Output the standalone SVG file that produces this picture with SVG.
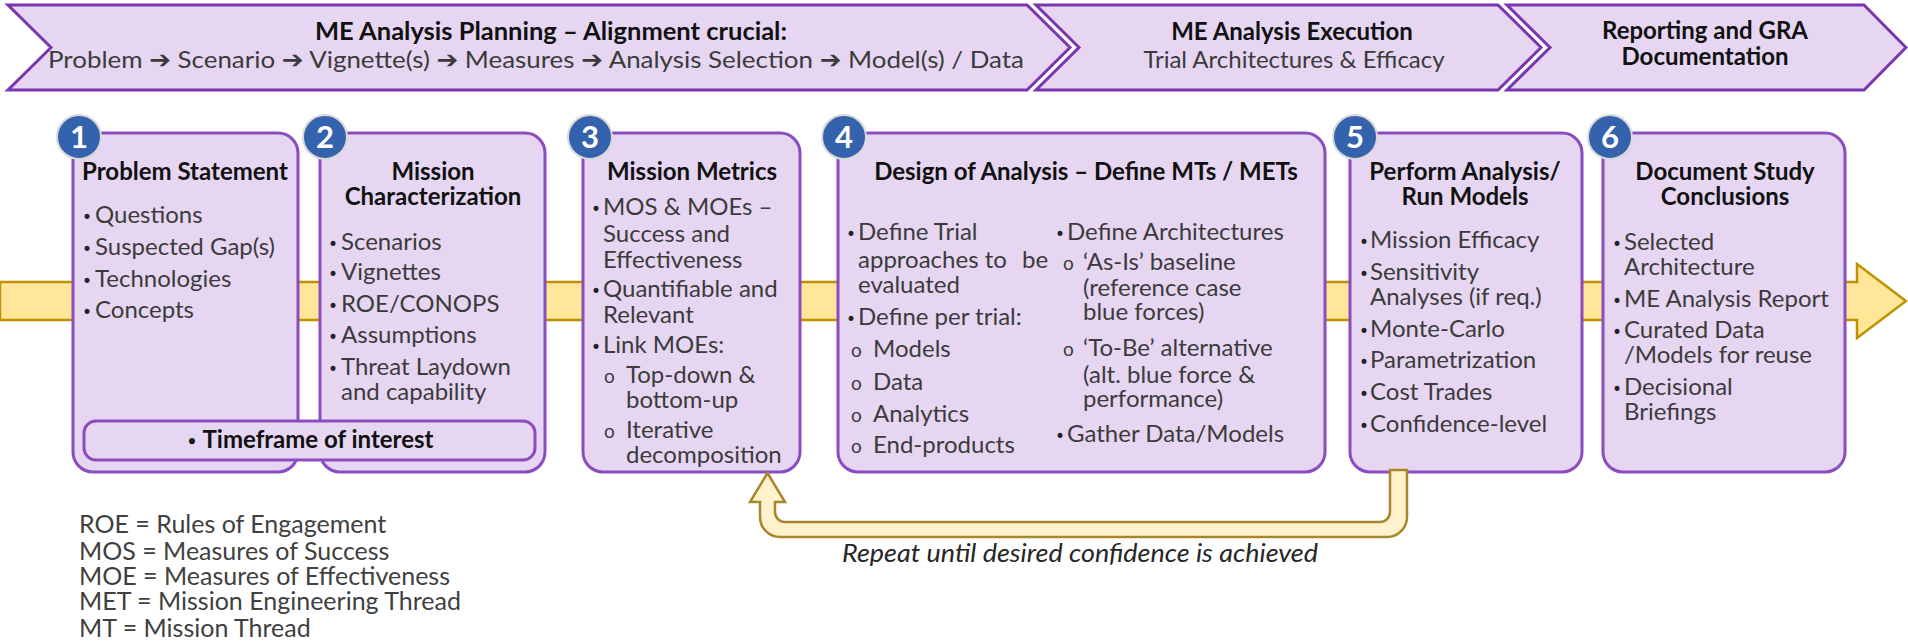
<svg xmlns="http://www.w3.org/2000/svg" width="1908" height="643" viewBox="0 0 1908 643">
<style>
.chev{fill:#E6D6F2;stroke:#7A36AE;stroke-width:3;stroke-linejoin:miter}
.box{fill:#E6D6F2;stroke:#8A4CBE;stroke-width:3}
.badge{fill:#3562AC;stroke:#D9D9D9;stroke-width:2}
.num{font-family:Lato,"DejaVu Sans",sans-serif;font-size:31px;font-weight:bold;fill:#fff;text-anchor:middle}
.t{font-family:Lato,"DejaVu Sans",sans-serif;font-size:24px;fill:#3B3B3B}
.h{font-family:Lato,"DejaVu Sans",sans-serif;font-size:24px;font-weight:bold;fill:#111;text-anchor:middle}
.sub{font-family:Lato,"DejaVu Sans",sans-serif;font-size:24px;fill:#3B3B3B;text-anchor:middle}
.b{font-family:"DejaVu Sans",sans-serif;font-size:17px;fill:#222}
.o{font-family:Lato,"DejaVu Sans",sans-serif;font-size:19px;fill:#3B3B3B}
.leg{font-family:Lato,"DejaVu Sans",sans-serif;font-size:25px;fill:#404040}
.rep{font-family:Lato,"DejaVu Sans",sans-serif;font-size:25px;font-style:italic;fill:#262626}
</style>

<g id="phase-planning">
<polygon class="chev" points="8,5 1027,5 1070,47.5 1027,90 8,90 51,47.5"/>
<text class="h" x="551" y="40" textLength="472" lengthAdjust="spacingAndGlyphs">ME Analysis Planning – Alignment crucial:</text>
<text class="t" x="48" y="68" textLength="976" lengthAdjust="spacingAndGlyphs">Problem ➔ Scenario ➔ Vignette(s) ➔ Measures ➔ Analysis Selection ➔ Model(s) / Data</text>
</g>
<g id="phase-execution">
<polygon class="chev" points="1036,5 1498,5 1541,47.5 1498,90 1036,90 1079,47.5"/>
<text class="h" x="1292" y="40">ME Analysis Execution</text>
<text class="sub" x="1294" y="68">Trial Architectures &amp; Efficacy</text>
</g>
<g id="phase-reporting">
<polygon class="chev" points="1507,5 1864,5 1906,47.5 1864,90 1507,90 1550,47.5"/>
<text class="h" x="1705" y="39">Reporting and GRA</text>
<text class="h" x="1705" y="65">Documentation</text>
</g>

<g id="flow-arrow">
<polygon points="0,282 1857,282 1857,264 1906,301 1857,338 1857,320 0,320" fill="#FFE699" stroke="#BF9000" stroke-width="2.5"/>
</g>

<g id="step1">
<rect class="box" x="73" y="133" width="225" height="339" rx="20"/>
<circle class="badge" cx="79" cy="137" r="22"/><text class="num" x="79" y="148">1</text>
<text class="h" x="185" y="180">Problem Statement</text>
<text class="b" x="82" y="223">•</text><text class="t" x="95" y="223">Questions</text>
<text class="b" x="82" y="255">•</text><text class="t" x="95" y="255">Suspected Gap(s)</text>
<text class="b" x="82" y="287">•</text><text class="t" x="95" y="287">Technologies</text>
<text class="b" x="82" y="318">•</text><text class="t" x="95" y="318">Concepts</text>
</g>

<g id="step2">
<rect class="box" x="320" y="133" width="225" height="339" rx="20"/>
<circle class="badge" cx="325" cy="137" r="22"/><text class="num" x="325" y="148">2</text>
<text class="h" x="433" y="180">Mission</text>
<text class="h" x="433" y="205">Characterization</text>
<text class="b" x="328" y="250">•</text><text class="t" x="341" y="250">Scenarios</text>
<text class="b" x="328" y="280">•</text><text class="t" x="341" y="280">Vignettes</text>
<text class="b" x="328" y="312">•</text><text class="t" x="341" y="312">ROE/CONOPS</text>
<text class="b" x="328" y="343">•</text><text class="t" x="341" y="343">Assumptions</text>
<text class="b" x="328" y="375">•</text><text class="t" x="341" y="375">Threat Laydown</text>
<text class="t" x="341" y="400">and capability</text>
</g>

<g id="timeframe">
<rect class="box" x="84" y="421" width="451" height="39" rx="12"/>
<text class="h" x="310" y="448"><tspan font-family="DejaVu Sans" font-size="17">•</tspan> Timeframe of interest</text>
</g>

<g id="step3">
<rect class="box" x="583" y="133" width="217" height="339" rx="20"/>
<circle class="badge" cx="590" cy="137" r="22"/><text class="num" x="590" y="148">3</text>
<text class="h" x="692" y="180">Mission Metrics</text>
<text class="b" x="591" y="215">•</text><text class="t" x="603" y="215">MOS &amp; MOEs –</text>
<text class="t" x="603" y="242">Success and</text>
<text class="t" x="603" y="268">Effectiveness</text>
<text class="b" x="591" y="297">•</text><text class="t" x="603" y="297">Quantifiable and</text>
<text class="t" x="603" y="323">Relevant</text>
<text class="b" x="591" y="353">•</text><text class="t" x="603" y="353">Link MOEs:</text>
<text class="o" x="604" y="383">o</text><text class="t" x="626" y="383">Top-down &amp;</text>
<text class="t" x="626" y="408">bottom-up</text>
<text class="o" x="604" y="438">o</text><text class="t" x="626" y="438">Iterative</text>
<text class="t" x="626" y="463">decomposition</text>
</g>

<g id="step4">
<rect class="box" x="838" y="133" width="487" height="339" rx="20"/>
<circle class="badge" cx="844" cy="137" r="22"/><text class="num" x="844" y="148">4</text>
<text class="h" x="1086" y="180">Design of Analysis – Define MTs / METs</text>
<text class="b" x="846" y="240">•</text><text class="t" x="858" y="240">Define Trial</text>
<text class="t" x="858" y="268">approaches to</text><text class="t" x="1022" y="268">be</text>
<text class="t" x="858" y="293">evaluated</text>
<text class="b" x="846" y="325">•</text><text class="t" x="858" y="325">Define per trial:</text>
<text class="o" x="851" y="357">o</text><text class="t" x="873" y="357">Models</text>
<text class="o" x="851" y="390">o</text><text class="t" x="873" y="390">Data</text>
<text class="o" x="851" y="422">o</text><text class="t" x="873" y="422">Analytics</text>
<text class="o" x="851" y="453">o</text><text class="t" x="873" y="453">End-products</text>
<text class="b" x="1055" y="240">•</text><text class="t" x="1067" y="240">Define Architectures</text>
<text class="o" x="1063" y="270">o</text><text class="t" x="1083" y="270">‘As-Is’ baseline</text>
<text class="t" x="1083" y="296">(reference case</text>
<text class="t" x="1083" y="320">blue forces)</text>
<text class="o" x="1063" y="356">o</text><text class="t" x="1083" y="356">‘To-Be’ alternative</text>
<text class="t" x="1083" y="383">(alt. blue force &amp;</text>
<text class="t" x="1083" y="407">performance)</text>
<text class="b" x="1055" y="442">•</text><text class="t" x="1067" y="442">Gather Data/Models</text>
</g>

<g id="step5">
<rect class="box" x="1350" y="133" width="232" height="339" rx="20"/>
<circle class="badge" cx="1355" cy="137" r="22"/><text class="num" x="1355" y="148">5</text>
<text class="h" x="1465" y="180">Perform Analysis/</text>
<text class="h" x="1465" y="205">Run Models</text>
<text class="b" x="1359" y="248">•</text><text class="t" x="1370" y="248">Mission Efficacy</text>
<text class="b" x="1359" y="280">•</text><text class="t" x="1370" y="280">Sensitivity</text>
<text class="t" x="1370" y="305">Analyses (if req.)</text>
<text class="b" x="1359" y="337">•</text><text class="t" x="1370" y="337">Monte-Carlo</text>
<text class="b" x="1359" y="368">•</text><text class="t" x="1370" y="368">Parametrization</text>
<text class="b" x="1359" y="400">•</text><text class="t" x="1370" y="400">Cost Trades</text>
<text class="b" x="1359" y="432">•</text><text class="t" x="1370" y="432">Confidence-level</text>
</g>

<g id="step6">
<rect class="box" x="1603" y="133" width="242" height="339" rx="20"/>
<circle class="badge" cx="1610" cy="137" r="22"/><text class="num" x="1610" y="148">6</text>
<text class="h" x="1725" y="180">Document Study</text>
<text class="h" x="1725" y="205">Conclusions</text>
<text class="b" x="1612" y="250">•</text><text class="t" x="1624" y="250">Selected</text>
<text class="t" x="1624" y="275">Architecture</text>
<text class="b" x="1612" y="307">•</text><text class="t" x="1624" y="307">ME Analysis Report</text>
<text class="b" x="1612" y="338">•</text><text class="t" x="1624" y="338">Curated Data</text>
<text class="t" x="1624" y="363">/Models for reuse</text>
<text class="b" x="1612" y="395">•</text><text class="t" x="1624" y="395">Decisional</text>
<text class="t" x="1624" y="420">Briefings</text>
</g>

<g id="connectors">
<path d="M1407,470 L1407,517 A20,20 0 0 1 1387,537 L780,537 A20,20 0 0 1 760,517 L760,502 L750,502 L767.5,473 L785,502 L775,502 L775,512 A10,10 0 0 0 785,522 L1380,522 A10,10 0 0 0 1390,512 L1390,470 Z" fill="#FFF2CC" stroke="#A8862A" stroke-width="2.5" stroke-linejoin="miter"/>
<text class="rep" x="842" y="562" textLength="476" lengthAdjust="spacingAndGlyphs">Repeat until desired confidence is achieved</text>
</g>

<g id="legend">
<text class="leg" x="79" y="533">ROE = Rules of Engagement</text>
<text class="leg" x="79" y="560">MOS = Measures of Success</text>
<text class="leg" x="79" y="585">MOE = Measures of Effectiveness</text>
<text class="leg" x="79" y="610">MET = Mission Engineering Thread</text>
<text class="leg" x="79" y="637">MT = Mission Thread</text>
</g>
</svg>
